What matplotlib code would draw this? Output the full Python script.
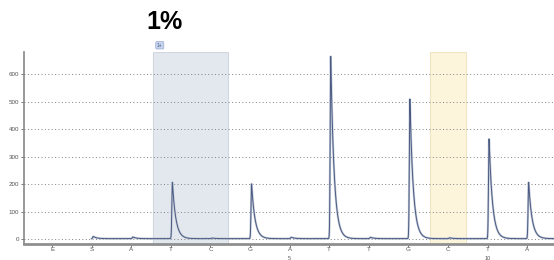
import numpy as np
import matplotlib.pyplot as plt

plt.rcParams['font.family'] = ['Liberation Sans', 'DejaVu Sans']

# dispensation order and peak heights
dispensations = ['E', 'S', 'A', 'T', 'C', 'G', 'A', 'T', 'T', 'G', 'C', 'T', 'A']
peak_heights = [0, 8, 6, 205, 2, 200, 5, 665, 5, 507, 3, 365, 205]
number_labels = ['5', '10']
number_positions = [7, 12]
blue_region = [4, 5]     # T, C
yellow_region = [11]     # C

fig = plt.figure(figsize=(5.54, 2.60), dpi=100)
ax = fig.add_axes([24 / 554, 1 - 244 / 260, 1 - 24 / 554, (244 - 52) / 260])

pos = np.arange(1, len(dispensations) + 1)

# trace: each dispensation gives a sharp rise and an exponential tail
x = np.linspace(2.0, 13.7, 4000)
y = np.zeros_like(x)
for p, h in zip(pos, peak_heights):
    if h == 0:
        continue
    d = x - (p + 0.04)
    rise = np.exp(-(d / 0.02) ** 2)
    tail = np.exp(-np.clip(d, 0, None) / 0.085)
    y += h * np.where(d < 0, rise, tail)
y += 1.5

ax.axvspan(blue_region[0] - 0.45, blue_region[-1] + 0.45, color='#e3e8ee',
           ec='#d0d7e0', lw=0.8, zorder=0)
ax.axvspan(yellow_region[0] - 0.45, yellow_region[-1] + 0.45, color='#fcf5dc',
           ec='#efe5c0', lw=0.8, zorder=0)

ax.plot(x, y, color='#c3cbd8', lw=1.6, zorder=2)
ax.plot(x, y, color='#4b5a82', lw=0.7, zorder=3)

ax.set_xlim(0.29, 13.68)
ax.set_ylim(-18, 680)
ax.set_yticks(range(0, 700, 100))
ax.grid(axis='y', color='#808080', linestyle=(0, (1, 2.5)), lw=0.7)
ax.set_axisbelow(True)

ax.set_xticks(pos)
ax.set_xticklabels(dispensations)
ax.tick_params(axis='both', labelsize=4.5, labelcolor='#555555', colors='#777777',
               length=2.5, width=0.7, pad=1)
ax.tick_params(axis='x', pad=0)

for lab, p in zip(number_labels, number_positions):
    ax.text(p, -0.073, lab, transform=ax.get_xaxis_transform(), ha='center',
            va='center', fontsize=4, color='#555555')

for side in ['top', 'right']:
    ax.spines[side].set_visible(False)
ax.spines['left'].set_color('#888888')
ax.spines['left'].set_linewidth(1.2)
ax.spines['bottom'].set_color('#8f8f8f')
ax.spines['bottom'].set_linewidth(2)

ax.text(blue_region[0] - 0.28, 1.035, '1+', transform=ax.get_xaxis_transform(),
        ha='center', va='center', fontsize=3.5, color='#4a5a80',
        bbox=dict(boxstyle='round,pad=0.25', fc='#c6d3ee', ec='#9aaad0', lw=0.5))

fig.text(165 / 554, 1 - 22 / 260, '1%', ha='center', va='center',
         fontsize=18, fontweight='bold', color='black')

fig.savefig('out.png', dpi=100)
